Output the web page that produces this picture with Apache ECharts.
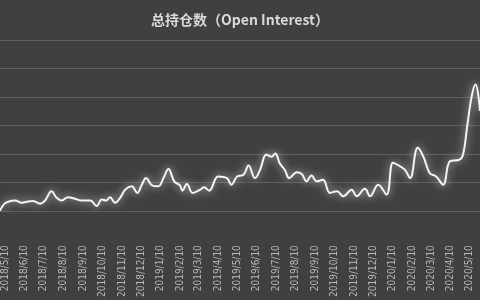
<!DOCTYPE html>
<html>
<head>
<meta charset="utf-8">
<script src="https://cdn.jsdelivr.net/npm/echarts@6/dist/echarts.min.js"></script>
<style>
html,body{margin:0;padding:0;background:#404040;}
#chart{width:480px;height:300px;}
</style>
</head>
<body>
<div id="chart"></div>
<script>
// Range of the daily category axis (visible window)
var firstDay = '2018/5/2';
var lastDay = '2020/5/26';

// Tick labels shown on the x axis
var tickLabels = ['2018/5/10','2018/6/10','2018/7/10','2018/8/10','2018/9/10','2018/10/10','2018/11/10','2018/12/10',
  '2019/1/10','2019/2/10','2019/3/10','2019/4/10','2019/5/10','2019/6/10','2019/7/10','2019/8/10','2019/9/10',
  '2019/10/10','2019/11/10','2019/12/10','2020/1/10','2020/2/10','2020/3/10','2020/4/10','2020/5/10'];

var obsDates = ['2018/5/2','2018/5/8','2018/5/15','2018/5/26','2018/6/5','2018/6/13','2018/6/23','2018/7/4','2018/7/12','2018/7/22',
  '2018/7/30','2018/8/7','2018/8/17','2018/8/28','2018/9/7','2018/9/21','2018/10/1','2018/10/9','2018/10/16','2018/10/22',
  '2018/10/30','2018/11/7','2018/11/15','2018/11/25','2018/12/4','2018/12/11','2018/12/18','2018/12/27','2019/1/6','2019/1/14',
  '2019/1/22','2019/1/31','2019/2/9','2019/2/13','2019/2/20','2019/3/1','2019/3/13','2019/3/19','2019/3/27','2019/4/10',
  '2019/4/24','2019/5/1','2019/5/10','2019/5/20','2019/5/28','2019/6/7','2019/6/15','2019/6/25','2019/7/3','2019/7/9',
  '2019/7/16','2019/7/24','2019/7/31','2019/8/12','2019/8/20','2019/8/27','2019/9/4','2019/9/12','2019/9/22','2019/10/3',
  '2019/10/14','2019/10/24','2019/11/6','2019/11/14','2019/11/27','2019/12/5','2019/12/18','2019/12/31','2020/1/10','2020/1/18',
  '2020/1/29','2020/2/6','2020/2/18','2020/2/27','2020/3/8','2020/3/18','2020/3/29','2020/4/9','2020/4/22','2020/4/29',
  '2020/5/6','2020/5/13','2020/5/19','2020/5/26'];
var openInterest = [10100,12350,13290,13740,12940,13290,13530,12590,13740,16990,
  14670,13740,14910,14320,13740,13740,11800,14080,13740,14910,
  12940,14670,17540,18710,16400,19270,21580,19060,18710,21580,
  24800,20440,19060,17190,19510,16400,17540,18370,17190,22170,
  21580,19270,22170,22730,25980,21580,24450,29880,29090,30230,
  26770,24450,21580,23660,22970,20440,22520,20440,21000,16400,
  16990,15260,17540,15260,17880,15260,19270,15810,27010,26180,
  24450,21580,32200,29090,23310,22170,19270,27570,27910,29640,
  40020,50390,54440,45100];

// Y axis scale
var yMin = 10000, yMax = 70000, yStep = 10000;

function fmt(d){ return d.getFullYear() + '/' + (d.getMonth()+1) + '/' + d.getDate(); }
function parse(s){ var p = s.split('/'); return new Date(+p[0], +p[1]-1, +p[2]); }
var categories = [];
for (var d = parse(firstDay), end = parse(lastDay); d <= end; d.setDate(d.getDate()+1)) {
  categories.push(fmt(d));
}
var tickSet = {};
tickLabels.forEach(function(t){ tickSet[t] = true; });
var seriesData = obsDates.map(function(dt, i){ return [dt, openInterest[i]]; });

var chart = echarts.init(document.getElementById('chart'));
chart.setOption({
  backgroundColor: '#404040',
  animation: false,
  title: {
    text: '总持仓数（Open Interest）',
    left: 'center',
    top: 8,
    textStyle: { color: '#d9d9d9', fontSize: 14, fontWeight: 'bold', fontFamily: 'Noto Sans CJK SC' }
  },
  grid: { left: 0, right: 0, top: 40, bottom: 86.5, containLabel: false },
  xAxis: {
    type: 'category',
    data: categories,
    boundaryGap: false,
    axisLine: { show: false },
    axisTick: { show: false },
    splitLine: { show: false },
    axisLabel: {
      rotate: 90,
      margin: 34,
      color: '#b8b8b8',
      fontSize: 10,
      fontFamily: '"Liberation Sans Narrow", "DejaVu Sans Condensed", sans-serif',
      interval: function(idx, val){ return !!tickSet[val]; }
    }
  },
  yAxis: {
    type: 'value',
    min: yMin, max: yMax, interval: yStep,
    axisLine: { show: false },
    axisTick: { show: false },
    axisLabel: { show: false },
    splitLine: { show: true, lineStyle: { color: '#5e5e5e', width: 1 } }
  },
  series: [{
    type: 'line',
    data: seriesData,
    smooth: 0.4,
    showSymbol: false,
    connectNulls: true,
    lineStyle: { color: '#f4f4f4', width: 2, shadowColor: 'rgba(255,255,255,0.8)', shadowBlur: 8 }
  }]
});
</script>
</body>
</html>
